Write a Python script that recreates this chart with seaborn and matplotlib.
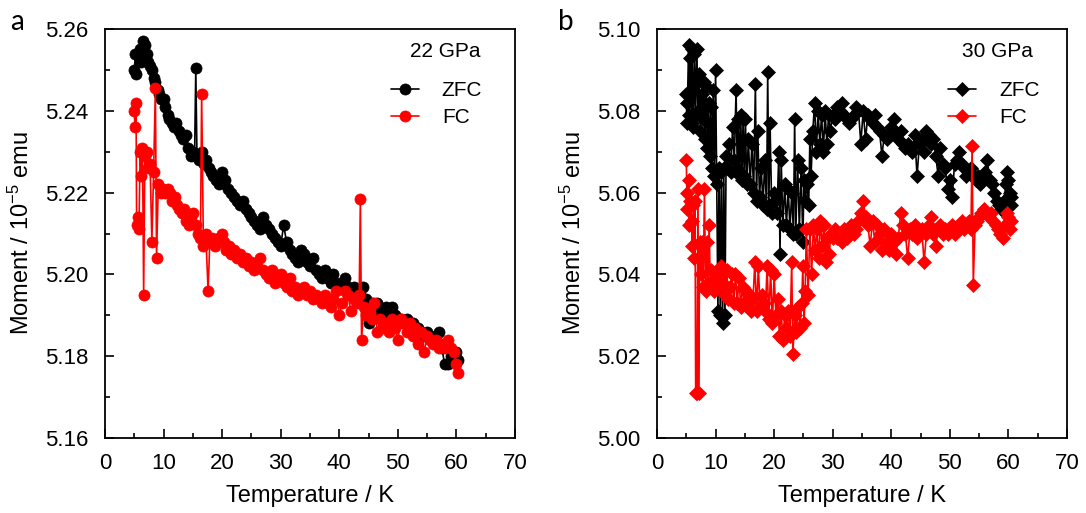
import numpy as np
import pandas as pd
import matplotlib
matplotlib.use("Agg")
import matplotlib.pyplot as plt
import seaborn as sns
from matplotlib.ticker import MultipleLocator

# (temperature K, moment 1e-5 emu)
zfc_22 = [
    (5.0, 5.250), (5.2, 5.254), (5.3, 5.249), (5.6, 5.254), (5.9, 5.255), (6.2, 5.252),
    (6.5, 5.257), (6.8, 5.256), (7.1, 5.254), (7.4, 5.252), (7.7, 5.251), (8.0, 5.250),
    (8.3, 5.248), (8.6, 5.247), (9.0, 5.245), (9.3, 5.244), (9.6, 5.243), (10.0, 5.243),
    (10.3, 5.241), (10.7, 5.239), (11.0, 5.238), (11.4, 5.237), (11.8, 5.236), (12.2, 5.237),
    (12.6, 5.235), (13.0, 5.234), (13.4, 5.233), (13.8, 5.234), (14.2, 5.231), (14.6, 5.229),
    (15.0, 5.230), (15.3, 5.229), (15.5, 5.2505), (15.7, 5.229), (16.1, 5.228), (16.5, 5.230),
    (16.9, 5.227), (17.3, 5.228), (17.7, 5.226), (18.1, 5.225), (18.5, 5.224), (19.0, 5.223),
    (19.5, 5.222), (20.0, 5.225), (20.5, 5.223), (21.0, 5.221), (21.5, 5.220), (22.0, 5.219),
    (22.5, 5.218), (23.0, 5.217), (23.5, 5.218), (24.0, 5.216), (24.5, 5.215), (25.0, 5.214),
    (25.5, 5.213), (26.0, 5.212), (26.5, 5.211), (27.0, 5.214), (27.5, 5.212), (28.0, 5.211),
    (28.5, 5.210), (29.0, 5.209), (29.5, 5.208), (30.0, 5.207), (30.5, 5.212), (31.0, 5.208),
    (31.5, 5.206), (32.0, 5.205), (32.5, 5.204), (33.0, 5.203), (33.5, 5.206), (34.0, 5.205),
    (34.5, 5.203), (35.0, 5.202), (35.5, 5.204), (36.0, 5.201), (36.5, 5.200), (37.0, 5.199),
    (37.5, 5.201), (38.0, 5.199), (38.5, 5.198), (39.0, 5.200), (39.5, 5.198), (40.0, 5.197),
    (40.5, 5.198), (41.0, 5.199), (41.5, 5.197), (42.0, 5.196), (42.5, 5.197), (43.0, 5.196),
    (43.5, 5.195), (44.0, 5.197), (44.5, 5.194), (45.0, 5.188), (45.5, 5.193), (46.0, 5.192),
    (46.5, 5.193), (47.0, 5.191), (47.5, 5.190), (48.0, 5.192), (48.5, 5.191), (49.0, 5.192),
    (49.5, 5.190), (50.0, 5.189), (50.5, 5.189), (51.0, 5.188), (51.5, 5.189), (52.0, 5.187),
    (52.5, 5.188), (53.0, 5.186), (53.5, 5.187), (54.0, 5.186), (54.5, 5.185), (55.0, 5.186),
    (55.5, 5.185), (56.0, 5.184), (56.5, 5.185), (57.0, 5.186), (57.5, 5.182), (58.0, 5.178),
    (58.5, 5.178), (59.0, 5.180), (59.5, 5.181), (60.0, 5.181), (60.2, 5.179),
]

fc_22 = [
    (5.0, 5.240), (5.1, 5.236), (5.3, 5.242), (5.4, 5.212), (5.6, 5.214), (5.8, 5.211),
    (6.0, 5.230), (6.2, 5.224), (6.4, 5.231), (6.6, 5.195), (6.8, 5.229), (7.1, 5.230),
    (7.4, 5.226), (7.7, 5.227), (8.0, 5.208), (8.3, 5.225), (8.6, 5.2455), (8.8, 5.204),
    (9.1, 5.222), (9.5, 5.220), (9.9, 5.221), (10.3, 5.220), (10.7, 5.221), (11.1, 5.220),
    (11.5, 5.218), (11.9, 5.219), (12.3, 5.217), (12.7, 5.216), (13.1, 5.215), (13.5, 5.216),
    (13.9, 5.213), (14.3, 5.212), (14.7, 5.214), (15.1, 5.215), (15.5, 5.212), (15.9, 5.210),
    (16.3, 5.209), (16.5, 5.244), (16.8, 5.207), (17.2, 5.210), (17.6, 5.196), (17.9, 5.208),
    (18.3, 5.209), (18.7, 5.207), (19.1, 5.208), (19.5, 5.209), (19.9, 5.210), (20.3, 5.208),
    (20.7, 5.206), (21.1, 5.207), (21.5, 5.205), (22.0, 5.206), (22.5, 5.204), (23.0, 5.205),
    (23.5, 5.203), (24.0, 5.204), (24.5, 5.202), (25.0, 5.203), (25.5, 5.201), (26.0, 5.202),
    (26.5, 5.204), (27.0, 5.201), (27.5, 5.200), (28.0, 5.199), (28.5, 5.201), (29.0, 5.198),
    (29.5, 5.199), (30.0, 5.200), (30.5, 5.198), (31.0, 5.197), (31.5, 5.199), (32.0, 5.196),
    (32.5, 5.197), (33.0, 5.195), (33.5, 5.196), (34.0, 5.197), (34.5, 5.195), (35.0, 5.196),
    (35.5, 5.194), (36.0, 5.195), (36.5, 5.194), (37.0, 5.193), (37.5, 5.195), (38.0, 5.193),
    (38.5, 5.192), (39.0, 5.194), (39.5, 5.196), (40.0, 5.190), (40.5, 5.193), (41.0, 5.196),
    (41.5, 5.195), (42.0, 5.191), (42.5, 5.194), (43.0, 5.193), (43.4, 5.195), (43.6, 5.2185),
    (43.8, 5.184), (44.2, 5.192), (44.6, 5.190), (45.0, 5.191), (45.5, 5.189), (46.0, 5.193),
    (46.5, 5.186), (47.0, 5.189), (47.5, 5.187), (48.0, 5.188), (48.5, 5.186), (49.0, 5.189),
    (49.5, 5.187), (50.0, 5.184), (50.5, 5.189), (51.0, 5.188), (51.5, 5.186), (52.0, 5.188),
    (52.5, 5.185), (53.0, 5.187), (53.5, 5.183), (54.0, 5.186), (54.5, 5.181), (55.0, 5.185),
    (55.5, 5.184), (56.0, 5.183), (56.5, 5.184), (57.0, 5.182), (57.5, 5.183), (58.0, 5.182),
    (58.5, 5.184), (59.0, 5.182), (59.5, 5.181), (60.0, 5.178), (60.2, 5.176),
]

zfc_30 = [
    (5.0, 5.084), (5.1, 5.077), (5.2, 5.082), (5.4, 5.096), (5.5, 5.079), (5.7, 5.093),
    (5.9, 5.077), (6.0, 5.095), (6.2, 5.076), (6.4, 5.094), (6.6, 5.079), (6.8, 5.095),
    (7.0, 5.080), (7.2, 5.089), (7.4, 5.075), (7.6, 5.084), (7.8, 5.078), (8.0, 5.087),
    (8.2, 5.073), (8.4, 5.086), (8.6, 5.071), (8.8, 5.082), (9.0, 5.069), (9.2, 5.081),
    (9.4, 5.066), (9.6, 5.085), (9.8, 5.064), (10.0, 5.090), (10.2, 5.062), (10.4, 5.031),
    (10.6, 5.066), (10.8, 5.030), (11.0, 5.065), (11.2, 5.028), (11.4, 5.066), (11.6, 5.030),
    (11.8, 5.069), (12.0, 5.066), (12.3, 5.072), (12.6, 5.065), (12.9, 5.076), (13.2, 5.068),
    (13.5, 5.085), (13.7, 5.066), (13.9, 5.078), (14.1, 5.064), (14.3, 5.079), (14.5, 5.063),
    (14.7, 5.078), (14.9, 5.064), (15.1, 5.078), (15.3, 5.062), (15.6, 5.073), (15.9, 5.062),
    (16.2, 5.072), (16.5, 5.060), (16.8, 5.0865), (17.0, 5.058), (17.2, 5.075), (17.5, 5.059),
    (17.8, 5.066), (18.1, 5.057), (18.4, 5.068), (18.7, 5.056), (18.9, 5.0895), (19.1, 5.057),
    (19.3, 5.077), (19.6, 5.055), (19.9, 5.060), (20.2, 5.058), (20.5, 5.055), (20.8, 5.070),
    (21.0, 5.045), (21.2, 5.068), (21.5, 5.052), (21.8, 5.062), (22.1, 5.052), (22.4, 5.061),
    (22.7, 5.051), (23.0, 5.060), (23.3, 5.050), (23.5, 5.078), (23.7, 5.050), (24.0, 5.068),
    (24.3, 5.051), (24.6, 5.066), (24.9, 5.048), (25.1, 5.063), (25.3, 5.058), (25.6, 5.062),
    (25.9, 5.057), (26.1, 5.073), (26.3, 5.064), (26.6, 5.075), (26.9, 5.082), (27.2, 5.070),
    (27.5, 5.080), (27.8, 5.072), (28.1, 5.079), (28.4, 5.070), (28.7, 5.080), (29.0, 5.072),
    (29.3, 5.079), (29.6, 5.075), (30.0, 5.079), (30.4, 5.078), (30.8, 5.081), (31.2, 5.080),
    (31.6, 5.082), (32.0, 5.079), (32.4, 5.078), (32.8, 5.077), (33.2, 5.078), (33.6, 5.079),
    (34.0, 5.081), (34.4, 5.080), (34.8, 5.072), (35.2, 5.080), (35.6, 5.073), (36.0, 5.079),
    (36.4, 5.078), (36.8, 5.077), (37.2, 5.079), (37.6, 5.076), (38.0, 5.075), (38.4, 5.069),
    (38.8, 5.074), (39.2, 5.073), (39.6, 5.074), (40.0, 5.076), (40.4, 5.078), (40.8, 5.074),
    (41.2, 5.073), (41.6, 5.075), (42.0, 5.072), (42.4, 5.071), (42.8, 5.072), (43.2, 5.071),
    (43.6, 5.070), (44.0, 5.074), (44.4, 5.064), (44.8, 5.072), (45.2, 5.073), (45.6, 5.070),
    (46.0, 5.075), (46.4, 5.074), (46.8, 5.072), (47.2, 5.073), (47.6, 5.069), (48.0, 5.064),
    (48.4, 5.071), (48.8, 5.067), (49.2, 5.066), (49.6, 5.061), (50.0, 5.063), (50.4, 5.059),
    (50.8, 5.067), (51.2, 5.068), (51.6, 5.070), (52.0, 5.067), (52.4, 5.066), (52.8, 5.064),
    (53.2, 5.065), (53.6, 5.066), (54.0, 5.064), (54.4, 5.063), (54.8, 5.064), (55.2, 5.062),
    (55.6, 5.063), (56.0, 5.065), (56.4, 5.068), (56.8, 5.063), (57.2, 5.062), (57.6, 5.060),
    (58.0, 5.058), (58.4, 5.057), (58.8, 5.056), (59.2, 5.058), (59.6, 5.062), (59.8, 5.065),
    (60.0, 5.063), (60.2, 5.060), (60.4, 5.057), (60.5, 5.059),
]

fc_30 = [
    (5.0, 5.068), (5.1, 5.060), (5.2, 5.056), (5.4, 5.063), (5.5, 5.052), (5.7, 5.058),
    (5.9, 5.053), (6.0, 5.047), (6.2, 5.057), (6.4, 5.044), (6.5, 5.058), (6.6, 5.011),
    (6.8, 5.011), (7.0, 5.061), (7.1, 5.011), (7.3, 5.048), (7.5, 5.040), (7.7, 5.048),
    (7.9, 5.037), (8.1, 5.061), (8.3, 5.036), (8.5, 5.048), (8.7, 5.038), (8.9, 5.052),
    (9.1, 5.037), (9.3, 5.041), (9.5, 5.038), (9.8, 5.036), (10.1, 5.039), (10.4, 5.037),
    (10.7, 5.040), (11.0, 5.042), (11.3, 5.038), (11.6, 5.035), (11.9, 5.041), (12.2, 5.034),
    (12.5, 5.037), (12.8, 5.040), (13.1, 5.033), (13.4, 5.040), (13.7, 5.033), (14.0, 5.039),
    (14.3, 5.032), (14.6, 5.037), (14.9, 5.033), (15.2, 5.036), (15.5, 5.032), (15.8, 5.035),
    (16.1, 5.031), (16.4, 5.034), (16.7, 5.043), (17.0, 5.031), (17.3, 5.042), (17.6, 5.032),
    (17.9, 5.035), (18.2, 5.033), (18.5, 5.031), (18.8, 5.042), (19.1, 5.029), (19.4, 5.041),
    (19.7, 5.028), (20.0, 5.040), (20.3, 5.030), (20.6, 5.034), (20.9, 5.025), (21.2, 5.031),
    (21.5, 5.024), (21.8, 5.030), (22.1, 5.027), (22.4, 5.031), (22.7, 5.025), (23.0, 5.043),
    (23.2, 5.0205), (23.5, 5.030), (23.8, 5.026), (24.1, 5.032), (24.4, 5.027), (24.7, 5.033),
    (24.9, 5.042), (25.1, 5.028), (25.3, 5.036), (25.5, 5.051), (25.8, 5.035), (26.1, 5.051),
    (26.4, 5.040), (26.7, 5.052), (27.0, 5.046), (27.3, 5.051), (27.6, 5.044), (27.9, 5.053),
    (28.2, 5.047), (28.5, 5.052), (28.8, 5.043), (29.1, 5.049), (29.4, 5.045), (29.7, 5.050),
    (30.0, 5.049), (30.4, 5.051), (30.8, 5.049), (31.2, 5.050), (31.6, 5.048), (32.0, 5.051),
    (32.4, 5.049), (32.8, 5.050), (33.2, 5.052), (33.6, 5.050), (34.0, 5.051), (34.4, 5.053),
    (34.8, 5.055), (35.2, 5.058), (35.6, 5.054), (36.0, 5.052), (36.4, 5.047), (36.8, 5.053),
    (37.2, 5.048), (37.6, 5.052), (38.0, 5.050), (38.4, 5.046), (38.8, 5.051), (39.2, 5.048),
    (39.6, 5.046), (40.0, 5.050), (40.4, 5.048), (40.8, 5.045), (41.2, 5.049), (41.6, 5.055),
    (42.0, 5.052), (42.4, 5.050), (42.8, 5.044), (43.2, 5.051), (43.6, 5.050), (44.0, 5.052),
    (44.4, 5.049), (44.8, 5.050), (45.2, 5.051), (45.6, 5.043), (46.0, 5.050), (46.4, 5.052),
    (46.8, 5.054), (47.2, 5.050), (47.6, 5.047), (48.0, 5.051), (48.4, 5.052), (48.8, 5.050),
    (49.2, 5.051), (49.6, 5.050), (50.0, 5.051), (50.4, 5.052), (50.8, 5.050), (51.2, 5.051),
    (51.6, 5.052), (52.0, 5.053), (52.4, 5.051), (52.8, 5.052), (53.2, 5.053), (53.6, 5.051),
    (53.8, 5.0715), (54.0, 5.0375), (54.3, 5.052), (54.6, 5.053), (55.0, 5.054), (55.4, 5.055),
    (55.8, 5.056), (56.2, 5.055), (56.6, 5.054), (57.0, 5.055), (57.4, 5.053), (57.8, 5.052),
    (58.2, 5.051), (58.6, 5.050), (59.0, 5.049), (59.4, 5.052), (59.8, 5.055), (60.0, 5.054),
    (60.2, 5.051), (60.4, 5.053),
]

panel_letters = ["a", "b"]
pressures = ["22 GPa", "30 GPa"]
y_limits = [(5.16, 5.26), (5.00, 5.10)]

sns.set_style("ticks")
plt.rcParams["font.family"] = ["Liberation Sans", "DejaVu Sans"]
plt.rcParams["mathtext.fontset"] = "custom"
plt.rcParams["mathtext.rm"] = "Liberation Sans"
plt.rcParams["mathtext.default"] = "regular"
for key in ["text.color", "axes.labelcolor", "xtick.color", "ytick.color", "axes.edgecolor"]:
    plt.rcParams[key] = "black"


def to_frame(pairs):
    return pd.DataFrame(pairs, columns=["T", "M"])


def draw_panel(ax, zfc, fc, marker, msize, ylim, pressure, leg_x):
    for data, color, label in [(zfc, "black", "ZFC"), (fc, "#ff0000", "FC")]:
        df = to_frame(data)
        sns.lineplot(data=df, x="T", y="M", sort=False, estimator=None,
                     color=color, marker=marker, markersize=msize,
                     markeredgecolor=color, markeredgewidth=0.5,
                     linewidth=1.2, label=label, ax=ax)
    ax.set_xlim(0, 70)
    ax.set_ylim(*ylim)
    ax.xaxis.set_major_locator(MultipleLocator(10))
    ax.xaxis.set_minor_locator(MultipleLocator(5))
    ax.yaxis.set_major_locator(MultipleLocator(0.02))
    ax.yaxis.set_minor_locator(MultipleLocator(0.01))
    ax.yaxis.set_major_formatter(matplotlib.ticker.FormatStrFormatter("%.2f"))
    ax.tick_params(which="both", direction="in", top=False, right=False,
                   width=1.2, labelsize=16)
    ax.tick_params(axis="y", which="major", length=6.5, pad=12)
    ax.tick_params(axis="x", which="major", length=6.5, pad=11)
    ax.tick_params(which="minor", length=3.5)
    for s in ax.spines.values():
        s.set_linewidth(1.3)
        s.set_visible(True)
    ax.set_xlabel("Temperature / K", fontsize=17, labelpad=8)
    ax.set_ylabel("Moment / 10$^{-5}$ emu", fontsize=17, labelpad=8)
    ax.text(0.745, 0.944, pressure, transform=ax.transAxes, fontsize=15,
            ha="left", va="center")
    ax.legend(loc="upper left", bbox_to_anchor=(leg_x, 0.873), frameon=False,
              fontsize=15, handlelength=1.35, handletextpad=1.1,
              labelspacing=0.4, borderpad=0, borderaxespad=0)


fig = plt.figure(figsize=(10.86, 5.13), dpi=100)
ax_a = fig.add_axes([105 / 1086, 1 - 438 / 513, 410 / 1086, 409 / 513])
ax_b = fig.add_axes([657 / 1086, 1 - 438 / 513, 410 / 1086, 409 / 513])

draw_panel(ax_a, zfc_22, fc_22, "o", 8, y_limits[0], pressures[0], 0.697)
draw_panel(ax_b, zfc_30, fc_30, "D", 7, y_limits[1], pressures[1], 0.71)

fig.text(10 / 1086, 1 - 22 / 513, panel_letters[0], fontsize=20,
         family=["Lato", "DejaVu Sans"], ha="left", va="center")
fig.text(558 / 1086, 1 - 22 / 513, panel_letters[1], fontsize=20,
         family=["Lato", "DejaVu Sans"], ha="left", va="center")

fig.savefig("out.png", dpi=100)
